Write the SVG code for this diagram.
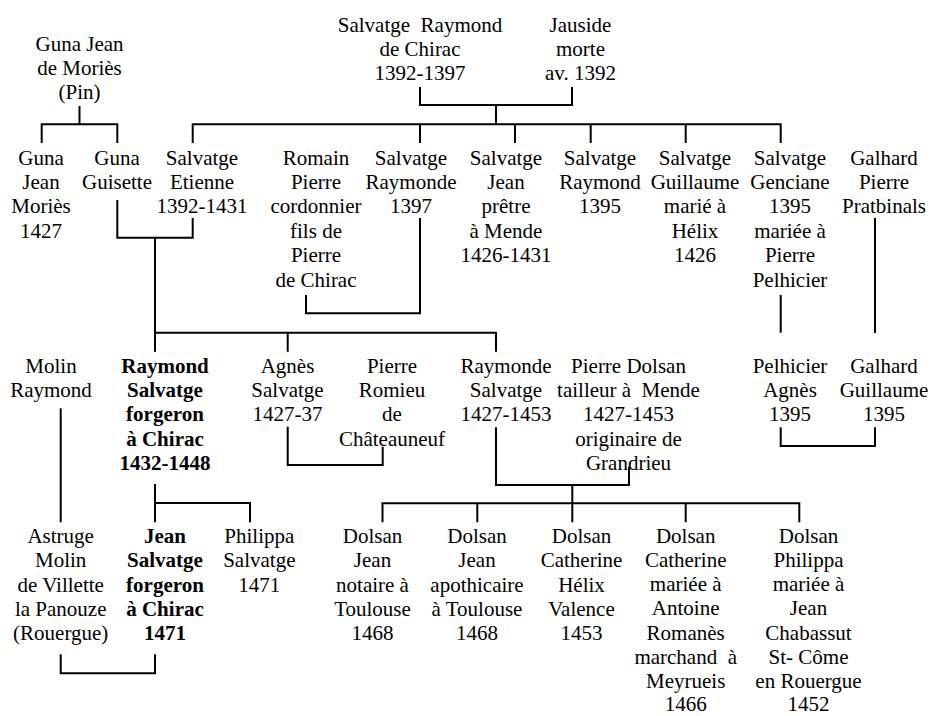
<svg xmlns="http://www.w3.org/2000/svg" width="931" height="716" viewBox="0 0 931 716">
<style>
  text { font-family: 'Liberation Serif', 'Times New Roman', Times, 'DejaVu Serif', serif; font-size: 21px; fill: #000; text-anchor: middle; white-space: pre; }
  .b { font-weight: bold; }
  #connectors path { fill: none; stroke: #000; stroke-width: 2; }
</style>
<rect width="931" height="716" fill="#fff"/>
<g id="connectors">
  <path d="M79.5 106 V124.3 M41.7 143 V124.3 H117.3 V143"/>
  <path d="M420 87 V105 H572 V87 M496 105 V124.3"/>
  <path d="M192.7 143 V124.3 H780.7 V143 M420 124.3 V143 M515 124.3 V143 M590.7 124.3 V143 M685.7 124.3 V143"/>
  <path d="M117.3 200 V237.7 H192.7 V218 M155 237.7 V332.7"/>
  <path d="M155 351.7 V332.7 H496 V351.7 M287.7 332.7 V351.7"/>
  <path d="M306 295 V313.3 H420 V218"/>
  <path d="M780.7 295 V332.7 M875 218 V333"/>
  <path d="M780.7 427.3 V446 H875 V427.3"/>
  <path d="M287.7 426.7 V465 H382.7 V446.7"/>
  <path d="M60.7 408.3 V522.3"/>
  <path d="M155 484 V522.3 M155 503 H250 V522.3"/>
  <path d="M496 427.3 V485 H629 V466.7 M572.3 485 V503.3"/>
  <path d="M382.5 522.3 V503.3 H799.3 V522.3 M477.3 503.3 V522.3 M572.3 503.3 V522.3 M685.7 503.3 V522.3"/>
  <path d="M60.7 654.3 V673.3 H155 V654.3"/>
</g>
<g font-family="'Liberation Serif', 'Times New Roman', 'DejaVu Serif', serif">
<g id="n-salvatge-raymond"><text x="420" y="31.5"><tspan x="420">Salvatge  Raymond</tspan><tspan x="420" dy="24.4">de Chirac</tspan><tspan x="420" dy="24.4">1392-1397</tspan></text></g>
<g id="n-jauside"><text x="580.5" y="31.5"><tspan x="580.5">Jauside</tspan><tspan x="580.5" dy="24.4">morte</tspan><tspan x="580.5" dy="24.4">av. 1392</tspan></text></g>
<g id="n-guna-jean-de-mories"><text x="79.5" y="50.5"><tspan x="79.5">Guna Jean</tspan><tspan x="79.5" dy="24.4">de Moriès</tspan><tspan x="79.5" dy="24.4">(Pin)</tspan></text></g>

<g id="n-guna-jean-mories"><text x="41" y="164.5"><tspan x="41">Guna</tspan><tspan x="41" dy="24.4">Jean</tspan><tspan x="41" dy="24.4">Moriès</tspan><tspan x="41" dy="24.4">1427</tspan></text></g>
<g id="n-guna-guisette"><text x="117" y="164.5"><tspan x="117">Guna</tspan><tspan x="117" dy="24.4">Guisette</tspan></text></g>
<g id="n-salvatge-etienne"><text x="202" y="164.5"><tspan x="202">Salvatge</tspan><tspan x="202" dy="24.4">Etienne</tspan><tspan x="202" dy="24.4">1392-1431</tspan></text></g>
<g id="n-romain-pierre"><text x="316" y="164.5"><tspan x="316">Romain</tspan><tspan x="316" dy="24.4">Pierre</tspan><tspan x="316" dy="24.4">cordonnier</tspan><tspan x="316" dy="24.4">fils de</tspan><tspan x="316" dy="24.4">Pierre</tspan><tspan x="316" dy="24.4">de Chirac</tspan></text></g>
<g id="n-salvatge-raymonde"><text x="411" y="164.5"><tspan x="411">Salvatge</tspan><tspan x="411" dy="24.4">Raymonde</tspan><tspan x="411" dy="24.4">1397</tspan></text></g>
<g id="n-salvatge-jean"><text x="506" y="164.5"><tspan x="506">Salvatge</tspan><tspan x="506" dy="24.4">Jean</tspan><tspan x="506" dy="24.4">prêtre</tspan><tspan x="506" dy="24.4">à Mende</tspan><tspan x="506" dy="24.4">1426-1431</tspan></text></g>
<g id="n-salvatge-raymond-1395"><text x="600" y="164.5"><tspan x="600">Salvatge</tspan><tspan x="600" dy="24.4">Raymond</tspan><tspan x="600" dy="24.4">1395</tspan></text></g>
<g id="n-salvatge-guillaume"><text x="695" y="164.5"><tspan x="695">Salvatge</tspan><tspan x="695" dy="24.4">Guillaume</tspan><tspan x="695" dy="24.4">marié à</tspan><tspan x="695" dy="24.4">Hélix</tspan><tspan x="695" dy="24.4">1426</tspan></text></g>
<g id="n-salvatge-genciane"><text x="790" y="164.5"><tspan x="790">Salvatge</tspan><tspan x="790" dy="24.4">Genciane</tspan><tspan x="790" dy="24.4">1395</tspan><tspan x="790" dy="24.4">mariée à</tspan><tspan x="790" dy="24.4">Pierre</tspan><tspan x="790" dy="24.4">Pelhicier</tspan></text></g>
<g id="n-galhard-pierre"><text x="884" y="164.5"><tspan x="884">Galhard</tspan><tspan x="884" dy="24.4">Pierre</tspan><tspan x="884" dy="24.4">Pratbinals</tspan></text></g>

<g id="n-molin-raymond"><text x="51" y="372.5"><tspan x="51">Molin</tspan><tspan x="51" dy="24.4">Raymond</tspan></text></g>
<g id="n-raymond-salvatge"><text class="b" x="165" y="372.5"><tspan x="165">Raymond</tspan><tspan x="165" dy="24.4">Salvatge</tspan><tspan x="165" dy="24.4">forgeron</tspan><tspan x="165" dy="24.4">à Chirac</tspan><tspan x="165" dy="24.4">1432-1448</tspan></text></g>
<g id="n-agnes-salvatge"><text x="287.5" y="372.5"><tspan x="287.5">Agnès</tspan><tspan x="287.5" dy="24.4">Salvatge</tspan><tspan x="287.5" dy="24.4">1427-37</tspan></text></g>
<g id="n-pierre-romieu"><text x="392" y="372.5"><tspan x="392">Pierre</tspan><tspan x="392" dy="24.4">Romieu</tspan><tspan x="392" dy="24.4">de</tspan><tspan x="392" dy="24.4">Châteauneuf</tspan></text></g>
<g id="n-raymonde-salvatge"><text x="506" y="372.5"><tspan x="506">Raymonde</tspan><tspan x="506" dy="24.4">Salvatge</tspan><tspan x="506" dy="24.4">1427-1453</tspan></text></g>
<g id="n-pierre-dolsan"><text x="628.5" y="372.5"><tspan x="628.5">Pierre Dolsan</tspan><tspan x="628.5" dy="24.4">tailleur à  Mende</tspan><tspan x="628.5" dy="24.4">1427-1453</tspan><tspan x="628.5" dy="24.4">originaire de</tspan><tspan x="628.5" dy="24.4">Grandrieu</tspan></text></g>
<g id="n-pelhicier-agnes"><text x="790" y="372.5"><tspan x="790">Pelhicier</tspan><tspan x="790" dy="24.4">Agnès</tspan><tspan x="790" dy="24.4">1395</tspan></text></g>
<g id="n-galhard-guillaume"><text x="884" y="372.5"><tspan x="884">Galhard</tspan><tspan x="884" dy="24.4">Guillaume</tspan><tspan x="884" dy="24.4">1395</tspan></text></g>

<g id="n-astruge-molin"><text x="60.7" y="542.7"><tspan x="60.7">Astruge</tspan><tspan x="60.7" dy="24.4">Molin</tspan><tspan x="60.7" dy="24.4">de Villette</tspan><tspan x="60.7" dy="24.4">la Panouze</tspan><tspan x="60.7" dy="24.4">(Rouergue)</tspan></text></g>
<g id="n-jean-salvatge"><text class="b" x="165" y="542.7"><tspan x="165">Jean</tspan><tspan x="165" dy="24.4">Salvatge</tspan><tspan x="165" dy="24.4">forgeron</tspan><tspan x="165" dy="24.4">à Chirac</tspan><tspan x="165" dy="24.4">1471</tspan></text></g>
<g id="n-philippa-salvatge"><text x="259.3" y="542.7"><tspan x="259.3">Philippa</tspan><tspan x="259.3" dy="24.4">Salvatge</tspan><tspan x="259.3" dy="24.4">1471</tspan></text></g>
<g id="n-dolsan-jean-notaire"><text x="372.5" y="542.7"><tspan x="372.5">Dolsan</tspan><tspan x="372.5" dy="24.4">Jean</tspan><tspan x="372.5" dy="24.4">notaire à</tspan><tspan x="372.5" dy="24.4">Toulouse</tspan><tspan x="372.5" dy="24.4">1468</tspan></text></g>
<g id="n-dolsan-jean-apothicaire"><text x="477" y="542.7"><tspan x="477">Dolsan</tspan><tspan x="477" dy="24.4">Jean</tspan><tspan x="477" dy="24.4">apothicaire</tspan><tspan x="477" dy="24.4">à Toulouse</tspan><tspan x="477" dy="24.4">1468</tspan></text></g>
<g id="n-dolsan-catherine-helix"><text x="581.5" y="542.7"><tspan x="581.5">Dolsan</tspan><tspan x="581.5" dy="24.4">Catherine</tspan><tspan x="581.5" dy="24.4">Hélix</tspan><tspan x="581.5" dy="24.4">Valence</tspan><tspan x="581.5" dy="24.4">1453</tspan></text></g>
<g id="n-dolsan-catherine-romanes"><text x="685.7" y="542.7"><tspan x="685.7">Dolsan</tspan><tspan x="685.7" dy="24.2">Catherine</tspan><tspan x="685.7" dy="24.2">mariée à</tspan><tspan x="685.7" dy="24.2">Antoine</tspan><tspan x="685.7" dy="24.2">Romanès</tspan><tspan x="685.7" dy="24.1">marchand  à</tspan><tspan x="685.7" dy="24.0">Meyrueis</tspan><tspan x="685.7" dy="23.8">1466</tspan></text></g>
<g id="n-dolsan-philippa"><text x="808.5" y="542.7"><tspan x="808.5">Dolsan</tspan><tspan x="808.5" dy="24.2">Philippa</tspan><tspan x="808.5" dy="24.2">mariée à</tspan><tspan x="808.5" dy="24.2">Jean</tspan><tspan x="808.5" dy="24.2">Chabassut</tspan><tspan x="808.5" dy="24.1">St- Côme</tspan><tspan x="808.5" dy="24.0">en Rouergue</tspan><tspan x="808.5" dy="23.8">1452</tspan></text></g>
</g>
</svg>
